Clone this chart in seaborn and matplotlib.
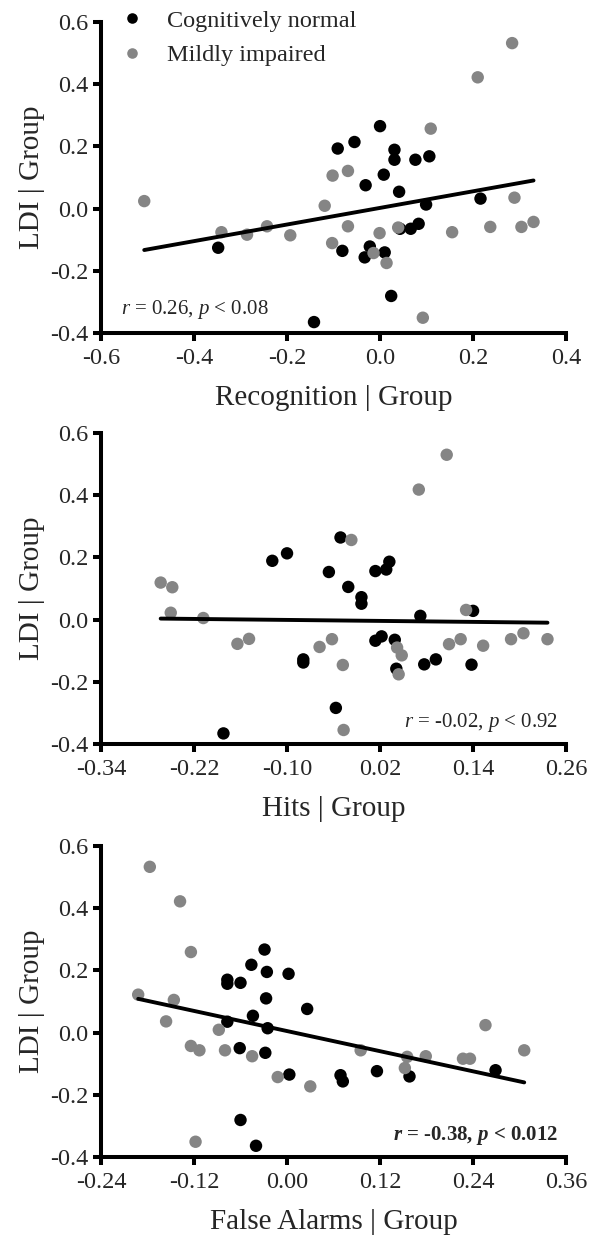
import numpy as np
import pandas as pd
import seaborn as sns
import matplotlib.pyplot as plt

# values (partial-residual plots, y = LDI | Group)
rec_cn_x = [-0.348, -0.142, -0.091, -0.055, 0.000, -0.081, -0.031, -0.022, -0.033, 0.010, 0.008,
            0.031, 0.031, 0.041, 0.043, 0.024, 0.066, 0.083, 0.076, 0.106, 0.099, 0.216]
rec_cn_y = [-0.126, -0.365, 0.193, 0.214, 0.265, -0.136, 0.075, -0.122, -0.157, -0.141, 0.109,
            0.189, 0.157, 0.054, -0.065, -0.281, -0.065, -0.049, 0.157, 0.168, 0.013, 0.032]
rec_mi_x = [-0.507, -0.341, -0.286, -0.243, -0.193, -0.119, -0.102, -0.069, -0.103, -0.069, -0.014,
            -0.001, 0.014, 0.039, 0.092, 0.109, 0.155, 0.210, 0.237, 0.284, 0.289, 0.304, 0.330]
rec_mi_y = [0.024, -0.076, -0.084, -0.057, -0.086, 0.009, 0.106, 0.121, -0.111, -0.057, -0.143,
            -0.079, -0.175, -0.061, -0.351, 0.257, -0.076, 0.422, -0.059, 0.532, 0.035, -0.059, -0.043]

hit_cn_x = [-0.182, -0.119, -0.100, -0.079, -0.079, -0.046, -0.031, -0.021, -0.037, -0.004, -0.004,
            0.014, 0.028, 0.032, 0.014, 0.022, 0.039, 0.041, 0.072, 0.077, 0.092, 0.140, 0.138]
hit_cn_y = [-0.366, 0.189, 0.213, -0.128, -0.138, 0.153, 0.264, 0.105, -0.284, 0.072, 0.051,
            0.156, 0.161, 0.186, -0.068, -0.054, -0.065, -0.158, 0.012, -0.144, -0.128, 0.028, -0.145]
hit_mi_x = [-0.263, -0.248, -0.250, -0.208, -0.164, -0.149, -0.058, -0.042, -0.028, -0.017, -0.027,
            0.042, 0.048, 0.044, 0.070, 0.106, 0.109, 0.124, 0.131, 0.153, 0.189, 0.205, 0.236]
hit_mi_y = [0.119, 0.104, 0.022, 0.005, -0.078, -0.062, -0.088, -0.063, -0.146, 0.256, -0.355,
            -0.090, -0.115, -0.176, 0.418, 0.530, -0.079, -0.063, 0.031, -0.084, -0.063, -0.044, -0.063]

fa_cn_x = [-0.077, -0.077, -0.060, -0.046, -0.029, -0.026, -0.027, -0.044, -0.077, -0.025, -0.061,
           -0.028, -0.060, -0.040, 0.002, 0.026, 0.003, 0.069, 0.072, 0.116, 0.158, 0.269]
fa_cn_y = [0.170, 0.157, 0.160, 0.218, 0.267, 0.195, 0.110, 0.054, 0.035, 0.014, -0.050,
           -0.065, -0.281, -0.364, 0.189, 0.076, -0.135, -0.137, -0.157, -0.124, -0.141, -0.121]
fa_mi_x = [-0.177, -0.138, -0.124, -0.192, -0.146, -0.156, -0.088, -0.124, -0.113, -0.080, -0.045,
           -0.012, 0.030, -0.118, 0.095, 0.155, 0.152, 0.179, 0.227, 0.236, 0.256, 0.306]
fa_mi_y = [0.533, 0.422, 0.259, 0.122, 0.105, 0.036, 0.009, -0.043, -0.057, -0.057, -0.076,
           -0.143, -0.173, -0.351, -0.057, -0.078, -0.114, -0.076, -0.084, -0.084, 0.024, -0.057]

groups = ["Cognitively normal", "Mildly impaired"]
palette = {"Cognitively normal": "#000000", "Mildly impaired": "#858585"}

x_labels = ["Recognition | Group", "Hits | Group", "False Alarms | Group"]
x_ticks = [[-0.6, -0.4, -0.2, 0.0, 0.2, 0.4],
           [-0.34, -0.22, -0.10, 0.02, 0.14, 0.26],
           [-0.24, -0.12, 0.00, 0.12, 0.24, 0.36]]
x_fmt = ["{:.1f}", "{:.2f}", "{:.2f}"]
y_ticks = [-0.4, -0.2, 0.0, 0.2, 0.4, 0.6]
stats_text = [r"$\mathit{r}$ = 0.26, $\mathit{p}$ < 0.08",
              r"$\mathit{r}$ = -0.02, $\mathit{p}$ < 0.92",
              r"$\mathbfit{r}$ = -0.38, $\mathbfit{p}$ < 0.012"]


def make_df(cn_x, cn_y, mi_x, mi_y):
    return pd.DataFrame({
        "x": cn_x + mi_x,
        "y": cn_y + mi_y,
        "group": [groups[0]] * len(cn_x) + [groups[1]] * len(mi_x),
    })


panels = [make_df(rec_cn_x, rec_cn_y, rec_mi_x, rec_mi_y),
          make_df(hit_cn_x, hit_cn_y, hit_mi_x, hit_mi_y),
          make_df(fa_cn_x, fa_cn_y, fa_mi_x, fa_mi_y)]

sns.set_style("ticks")
plt.rcParams["font.family"] = ["Liberation Serif", "DejaVu Serif"]
plt.rcParams["mathtext.fontset"] = "custom"
plt.rcParams["mathtext.rm"] = "Liberation Serif"
plt.rcParams["mathtext.it"] = "Liberation Serif:italic"
plt.rcParams["mathtext.bf"] = "Liberation Serif:bold"
plt.rcParams["mathtext.bfit"] = "Liberation Serif:italic:bold"
plt.rcParams["axes.unicode_minus"] = False

fig = plt.figure(figsize=(5.94, 12.41), dpi=100)
bottoms = [0.7317, 0.4005, 0.0677]

for i, df in enumerate(panels):
    ax = fig.add_axes([0.170, bottoms[i], 0.783, 0.2506])
    sns.scatterplot(data=df, x="x", y="y", hue="group", hue_order=groups, palette=palette,
                    s=80, linewidth=0, alpha=1, ax=ax, legend=(i == 0), zorder=3)
    sns.regplot(data=df, x="x", y="y", scatter=False, ci=None, truncate=True,
                line_kws={"color": "black", "linewidth": 2.8, "zorder": 4}, ax=ax)

    ax.set_xlim(x_ticks[i][0], x_ticks[i][-1])
    ax.set_ylim(-0.4, 0.6)
    ax.set_xticks(x_ticks[i])
    ax.set_xticklabels([x_fmt[i].format(t) for t in x_ticks[i]])
    ax.set_yticks(y_ticks)
    ax.set_yticklabels(["{:.1f}".format(t) for t in y_ticks])
    ax.tick_params(axis="both", labelsize=17.5, width=2.9, length=6, color="black")
    ax.tick_params(axis="x", pad=4.5)
    ax.tick_params(axis="y", pad=3)
    for side in ["left", "bottom"]:
        ax.spines[side].set_linewidth(2.9)
        ax.spines[side].set_color("black")
    sns.despine(ax=ax)
    ax.set_xlabel(x_labels[i], fontsize=21, labelpad=12)
    ax.set_ylabel("LDI | Group", fontsize=21, labelpad=4)

    if i == 0:
        ax.text(0.043, 0.077, stats_text[i], transform=ax.transAxes, fontsize=15,
                ha="left", va="center")
        ax.legend(loc="upper left", bbox_to_anchor=(0.041, 1.039), frameon=False,
                  fontsize=17.5, markerscale=0.85, handlelength=1.0, handletextpad=0.95,
                  labelspacing=0.5, borderpad=0, borderaxespad=0)
    else:
        weight = "bold" if i == 2 else "normal"
        ax.text(0.983, 0.07, stats_text[i], transform=ax.transAxes, fontsize=15,
                ha="right", va="center", fontweight=weight)

fig.savefig("out.png", dpi=100)
